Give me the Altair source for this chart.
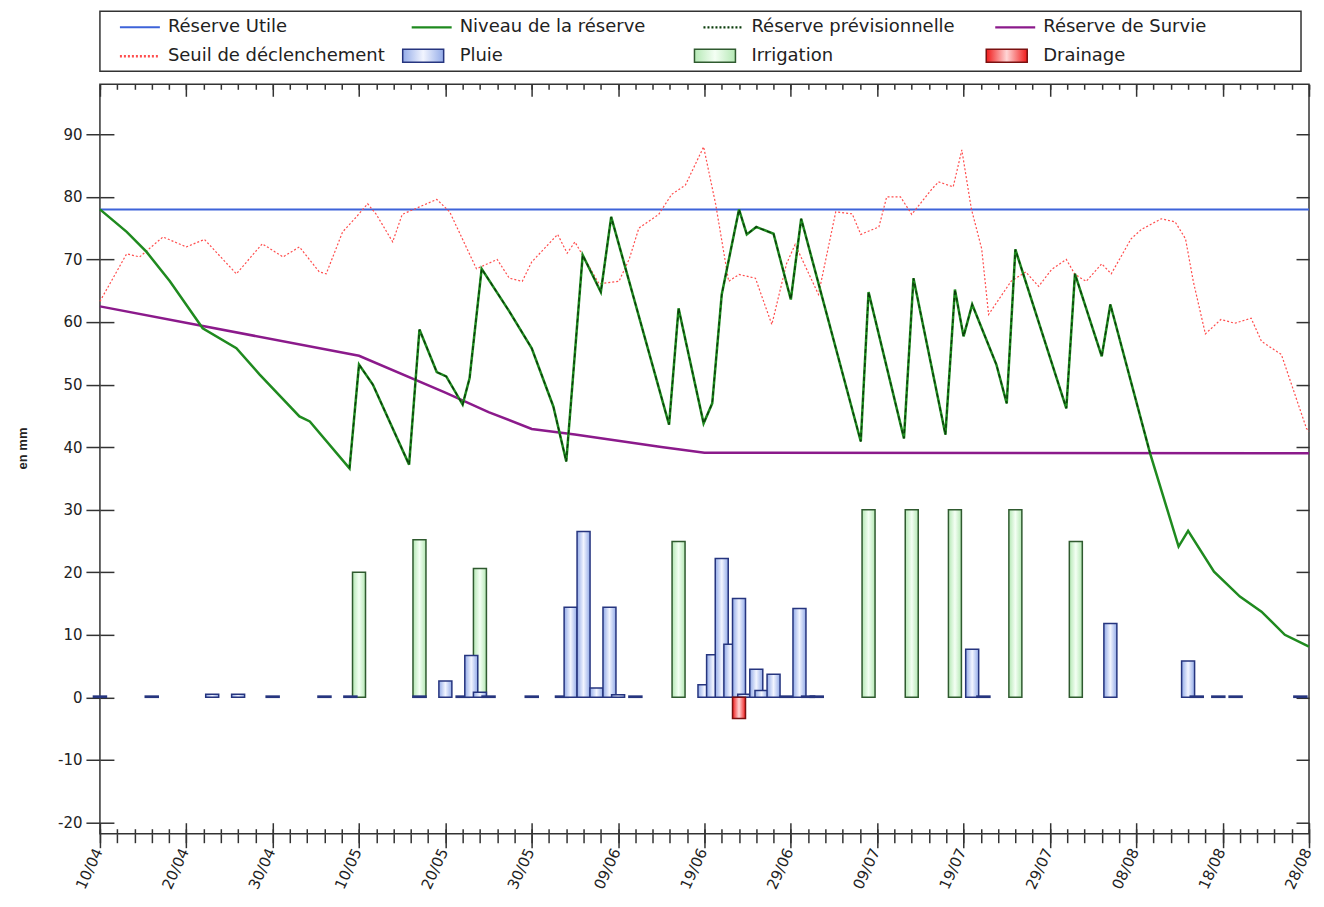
import altair as alt
import pandas as pd

BASE = pd.Timestamp("2023-04-10")

# ---------------- data (day offsets from 10/04) ----------------
tick_labels = ["10/04", "20/04", "30/04", "10/05", "20/05", "30/05", "09/06", "19/06",
               "29/06", "09/07", "19/07", "29/07", "08/08", "18/08", "28/08"]

ru_days = [0, 140]
ru_vals = [78, 78]

niveau_days = [0, 3.1, 5.4, 8.1, 11.9, 15.8, 18.5, 23.1, 24.3, 28.9, 30.0, 31.6, 35.8, 37.0,
               39.0, 40.1, 42.0, 42.8, 44.2, 47.4, 50.0, 52.5, 54.0, 55.9, 58.0, 59.2, 65.9,
               67.0, 69.9, 70.9, 72.0, 74.0, 74.9, 76.0, 78.0, 80.0, 81.2, 88.1, 89.0, 93.1,
               94.2, 97.9, 99.0, 100.0, 101.0, 103.8, 105.0, 106.0, 111.9, 112.9, 116.0,
               117.0, 121.6, 124.9, 126.0, 129.0, 132.0, 134.5, 137.2, 140.0]
niveau_vals = [78.0, 74.4, 71.2, 66.5, 59.0, 55.8, 51.6, 44.9, 44.1, 36.6, 53.2, 50.0, 37.2, 58.8,
               52.0, 51.3, 46.8, 51.0, 68.5, 61.7, 55.8, 46.5, 37.7, 70.7, 64.8, 76.8, 43.6,
               62.2, 43.8, 47.0, 64.4, 78.0, 74.0, 75.2, 74.1, 63.6, 76.5, 40.9, 64.8, 41.4,
               67.0, 42.0, 65.2, 57.7, 62.8, 53.2, 47.0, 71.6, 46.2, 67.7, 54.5,
               62.8, 39.0, 24.1, 26.6, 20.1, 16.1, 13.7, 10.0, 8.1]

survie_days = [0, 30, 40, 45, 50, 55, 60, 65, 70, 140]
survie_vals = [62.5, 54.6, 48.7, 45.6, 42.9, 42.0, 41.0, 40.0, 39.1, 39.0]

seuil_days = [0, 3.1, 4.6, 7.3, 10.0, 12.1, 15.8, 18.8, 21.2, 23.1, 25.4, 26.2, 28.1, 29.7,
              31.0, 32.0, 33.9, 35.0, 37.0, 39.0, 40.5, 43.6, 46.0, 47.4, 48.9, 50.0, 53.0,
              54.1, 55.0, 57.8, 60.1, 61.3, 62.4, 64.7, 66.2, 67.8, 69.9, 71.3, 72.8, 74.0,
              75.9, 77.8, 79.5, 80.5, 83.2, 85.2, 87.1, 88.1, 90.2, 91.1, 92.7, 94.0, 96.3,
              97.1, 98.8, 99.8, 100.9, 102.1, 102.9, 105.5, 107.2, 108.7, 110.2, 111.9,
              112.9, 114.2, 116.0, 117.1, 119.4, 120.6, 122.9, 124.5, 125.7, 126.6, 128.0,
              129.8, 131.4, 133.3, 134.5, 136.8, 139.7, 140.0]
seuil_vals = [63.3, 70.9, 70.4, 73.6, 72.0, 73.2, 67.7, 72.5, 70.4, 72.0, 68.0, 67.7, 74.4, 76.8,
              78.9, 77.2, 72.8, 77.2, 78.4, 79.6, 77.6, 68.5, 70.0, 67.0, 66.5, 69.6, 74.0,
              71.0, 72.8, 66.1, 66.5, 70.1, 75.0, 77.2, 80.4, 81.9, 88.0, 78.8, 66.5, 67.6,
              67.0, 59.6, 69.3, 72.4, 64.4, 77.6, 77.3, 74.0, 75.2, 80.0, 80.0, 77.2, 81.2,
              82.4, 81.6, 87.5, 78.1, 71.7, 61.2, 66.5, 68.0, 65.7, 68.4, 70.0,
              67.6, 66.5, 69.3, 67.7, 73.3, 74.8, 76.5, 76.0, 73.3, 66.5, 58.1,
              60.4, 59.8, 60.6, 56.9, 54.8, 43.0, 42.5]

irr_days = [30, 37, 44, 67, 89, 94, 99, 106, 113]
irr_vals = [20.0, 25.2, 20.6, 24.9, 30.0, 30.0, 30.0, 30.0, 24.9]

pluie_days = [0, 6, 13, 16, 20, 26, 29, 37, 40, 42, 43, 44, 45, 50, 53.5, 54.5, 56, 57.5, 59,
              60, 62, 70, 71, 72, 73, 74, 74.6, 76, 76.6, 78, 79.5, 81, 82, 83, 101, 102.3,
              117, 126, 127, 129.5, 131.5, 139]
pluie_vals = [0.2, 0.2, 0.5, 0.5, 0.2, 0.2, 0.2, 0.2, 2.6, 0.2, 6.7, 0.8, 0.2, 0.2, 0.2, 14.4,
              26.5, 1.5, 14.4, 0.4, 0.2, 2.0, 6.8, 22.2, 8.5, 15.8, 0.5, 4.5, 1.1, 3.7, 0.2,
              14.2, 0.2, 0.2, 7.7, 0.2, 11.8, 5.8, 0.2, 0.2, 0.2, 0.2]

drain_days = [74]
drain_vals = [-3.4]

legend_labels = ["Réserve Utile", "Niveau de la réserve", "Réserve prévisionnelle",
                 "Réserve de Survie", "Seuil de déclenchement", "Pluie", "Irrigation", "Drainage"]


# ---------------- helpers ----------------
def frame(days, vals):
    return pd.DataFrame({"date": [BASE + pd.Timedelta(days=d) for d in days], "mm": vals})


def dt(ts):
    return alt.DateTime(year=ts.year, month=ts.month, date=ts.day)


major_dt = [alt.DateTime(year=2023, month=int(t[3:5]), date=int(t[0:2])) for t in tick_labels]
minor_dt = [dt(BASE + pd.Timedelta(days=2 * k)) for k in range(71)]
y_ticks = list(range(-20, 100, 10))

C_RU = "#3d63d9"
C_NIV = "#1f8a1f"
C_PREV = "#0b3d0b"
C_SURV = "#8b1a8b"
C_SEUIL = "#ff4d4d"

g_pluie = alt.LinearGradient(gradient="linear", x1=0, x2=1, y1=0, y2=0, stops=[
    alt.GradientStop(color="#93abe8", offset=0),
    alt.GradientStop(color="#f2f5ff", offset=0.5),
    alt.GradientStop(color="#93abe8", offset=1)])
g_irr = alt.LinearGradient(gradient="linear", x1=0, x2=1, y1=0, y2=0, stops=[
    alt.GradientStop(color="#b4e8b4", offset=0),
    alt.GradientStop(color="#f4fff4", offset=0.5),
    alt.GradientStop(color="#b4e8b4", offset=1)])
g_drain = alt.LinearGradient(gradient="linear", x1=0, x2=1, y1=0, y2=0, stops=[
    alt.GradientStop(color="#f01a1a", offset=0),
    alt.GradientStop(color="#ffd6d6", offset=0.5),
    alt.GradientStop(color="#f01a1a", offset=1)])

xscale = alt.Scale(domain=[alt.DateTime(year=2023, month=4, date=10),
                           alt.DateTime(year=2023, month=8, date=28)], padding=0)
yscale = alt.Scale(domain=[-21.8, 98], nice=False, zero=False, padding=0)

common = dict(domain=False, grid=False, title=None, tickColor="#333", tickWidth=1.5,
              minExtent=0)

ax_b_major = alt.Axis(orient="bottom", values=major_dt, tickSize=14, format="%d/%m",
                      labelAngle=-65, labelAlign="right", labelBaseline="middle",
                      labelFont="DejaVu Sans", labelFontSize=15, labelColor="#222",
                      labelPadding=1, labelOffset=-2, labelOverlap=False, labelFlush=False,
                      **common)
ax_b_major_in = alt.Axis(orient="bottom", values=major_dt, tickSize=11, offset=-11,
                         labels=False, **common)
ax_b_minor = alt.Axis(orient="bottom", values=minor_dt, tickSize=9, labels=False, **common)
ax_b_minor_in = alt.Axis(orient="bottom", values=minor_dt, tickSize=5, offset=-5,
                         labels=False, **common)
ax_t_major = alt.Axis(orient="top", values=major_dt, tickSize=12, offset=-12,
                      labels=False, **common)
ax_t_minor = alt.Axis(orient="top", values=minor_dt, tickSize=5, offset=-5,
                      labels=False, **common)

ay_left = alt.Axis(orient="left", values=y_ticks, tickSize=14, domain=False, grid=False,
                   tickColor="#333", tickWidth=1.5, minExtent=0, labelFont="DejaVu Sans",
                   labelFontSize=15, labelColor="#222", labelPadding=4,
                   labelExpr="'' + datum.value",
                   title="en mm", titleFont="Liberation Sans", titleFontSize=13,
                   titleFontWeight="bold", titleColor="#222", titlePadding=28, titleY=364)
ay_left_in = alt.Axis(orient="left", values=y_ticks, tickSize=14, offset=-14,
                      labels=False, **common)
ay_right_in = alt.Axis(orient="right", values=y_ticks, tickSize=13, offset=-13,
                       labels=False, **common)


def enc(chart, xaxis, yaxis):
    return chart.encode(
        x=alt.X("date:T", scale=xscale, axis=xaxis),
        y=alt.Y("mm:Q", scale=yscale, axis=yaxis),
    )


irr_layer = enc(alt.Chart(frame(irr_days, irr_vals)).mark_bar(
    fill=g_irr, stroke="#2f5a2f", strokeWidth=1.5, size=13), ax_t_minor, None)
pluie_layer = enc(alt.Chart(frame(pluie_days, pluie_vals)).mark_bar(
    fill=g_pluie, stroke="#26357f", strokeWidth=1.5, size=13), None, None)
drain_layer = enc(alt.Chart(frame(drain_days, drain_vals)).mark_bar(
    fill=g_drain, stroke="#7a1010", strokeWidth=1.5, size=13), None, None)

ru_layer = enc(alt.Chart(frame(ru_days, ru_vals)).mark_line(
    color=C_RU, strokeWidth=2), ax_b_major, ay_left)
seuil_layer = enc(alt.Chart(frame(seuil_days, seuil_vals)).mark_line(
    color=C_SEUIL, strokeWidth=1.2, strokeDash=[2, 2]), ax_t_major, None)
surv_layer = enc(alt.Chart(frame(survie_days, survie_vals)).mark_line(
    color=C_SURV, strokeWidth=2.5), ax_b_minor_in, None)
niv_layer = enc(alt.Chart(frame(niveau_days, niveau_vals)).mark_line(
    color=C_NIV, strokeWidth=2.5), ax_b_major_in, ay_left_in)

prev_pts = [(d, v) for d, v in zip(niveau_days, niveau_vals) if 28.9 <= d <= 121.6]
prev_layer = enc(alt.Chart(frame([p[0] for p in prev_pts], [p[1] for p in prev_pts])).mark_line(
    color=C_PREV, strokeWidth=1.4, strokeDash=[4, 3]), ax_b_minor, ay_right_in)

main = alt.layer(
    irr_layer, pluie_layer, drain_layer, ru_layer, seuil_layer, surv_layer, niv_layer, prev_layer
).resolve_axis(x="independent", y="independent").properties(width=1210, height=750)

# ---------------- legend panel ----------------
leg_df = pd.DataFrame({
    "label": legend_labels,
    "col": [i % 4 for i in range(len(legend_labels))],
    "row": [i // 4 for i in range(len(legend_labels))],
})
line_labels = legend_labels[:5]
lx = alt.X("col:Q", scale=alt.Scale(domain=[0, 4], range=[68, 1236]), axis=None)
ly = alt.Y("row:Q", scale=alt.Scale(domain=[0, 1], range=[16, 45]), axis=None)

leg_base = alt.Chart(leg_df)
leg_lines = leg_base.transform_filter(
    alt.FieldOneOfPredicate(field="label", oneOf=line_labels)
).mark_rule(xOffset=-48, x2Offset=-8).encode(
    x=lx, x2=alt.X2("col:Q"), y=ly,
    color=alt.Color("label:N", scale=alt.Scale(domain=line_labels,
                    range=[C_RU, C_NIV, C_PREV, C_SURV, C_SEUIL]), legend=None),
    strokeDash=alt.StrokeDash("label:N", scale=alt.Scale(domain=line_labels,
                              range=[[1, 0], [1, 0], [2, 2], [1, 0], [2, 2]]), legend=None),
    strokeWidth=alt.StrokeWidth("label:O", scale=alt.Scale(domain=line_labels,
                                range=[2, 2.5, 2, 2.5, 1.2]), legend=None),
)


def leg_rect(name, grad, stroke):
    return leg_base.transform_filter(alt.datum.label == name).mark_rect(
        fill=grad, stroke=stroke, strokeWidth=1.5,
        xOffset=-57, x2Offset=-16, yOffset=-7, y2Offset=6
    ).encode(x=lx, x2=alt.X2("col:Q"), y=ly, y2=alt.Y2("row:Q"))


leg_text = leg_base.mark_text(align="left", baseline="middle", font="DejaVu Sans",
                              fontSize=18, color="#222").encode(x=lx, y=ly, text="label:N")

legend = alt.layer(
    leg_lines,
    leg_rect("Pluie", g_pluie, "#26357f"),
    leg_rect("Irrigation", g_irr, "#2f5a2f"),
    leg_rect("Drainage", g_drain, "#7a1010"),
    leg_text,
).properties(width=1202, height=60)

chart = alt.vconcat(legend, main, spacing=13, bounds="flush").properties(
    padding={"left": 7, "top": 2, "right": 0, "bottom": 0},
    background="white",
).configure_view(stroke="#333", strokeWidth=1.5)

chart.save("out.html", embed_options={"renderer": "svg", "actions": False})
